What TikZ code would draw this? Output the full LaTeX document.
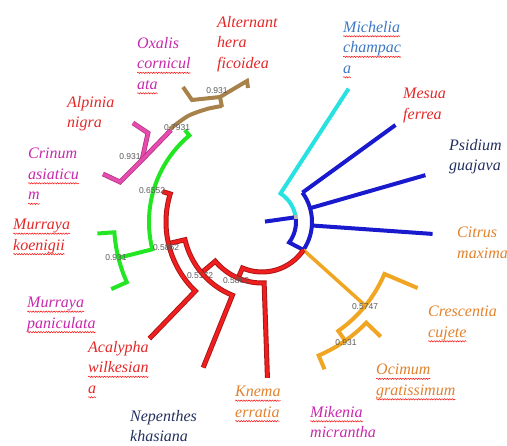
\documentclass[tikz,border=0pt]{standalone}
\usepackage{fontspec}
\setmainfont{Liberation Serif}
\newfontfamily\valfont{Liberation Sans}
\usetikzlibrary{decorations.pathmorphing}

\definecolor{cyanbr}{RGB}{40,225,225}
\definecolor{bluebr}{RGB}{25,25,205}
\definecolor{redbr}{RGB}{240,30,30}
\definecolor{orangebr}{RGB}{240,165,35}
\definecolor{greenbr}{RGB}{35,230,35}
\definecolor{pinkbr}{RGB}{232,75,175}
\definecolor{brownbr}{RGB}{168,130,75}
\definecolor{txtred}{RGB}{228,40,40}
\definecolor{txtpink}{RGB}{200,40,170}
\definecolor{txtnavy}{RGB}{35,48,95}
\definecolor{txtorange}{RGB}{225,130,45}
\definecolor{txtblue}{RGB}{60,120,195}

% wavy spell-check underline
\newlength\spellwd
\newcommand\spell[1]{\setbox0\hbox{#1}\setlength\spellwd{\wd0}%
  \rlap{\tikz[overlay, baseline=0pt]\draw[red, line width=0.45pt, decorate,
    decoration={snake, amplitude=0.7pt, segment length=2.6pt}] (0pt,-4pt) -- (\spellwd,-4pt);}#1}

\tikzset{
  branch/.style={line width=4pt},
  redbranch/.style={draw=redbr!70!black, line width=0.9pt, double=redbr, double distance=3.2pt},
  pinkbranch/.style={draw=pinkbr!75!black, line width=0.8pt, double=pinkbr, double distance=3.2pt},
  taxon/.style={anchor=north west, inner sep=0pt, align=left, font=\fontsize{16}{20.5}\selectfont\itshape},
  val/.style={font=\valfont\fontsize{8.5}{8.5}\selectfont, text=gray!70!black, inner sep=0.5pt}
}

\begin{document}
\begin{tikzpicture}[x=1pt, y=-1pt]
    \useasboundingbox (0,0) rectangle (507,446);

    % Circle tree round the root
    \begin{scope}[shift={(262,222)}, y=1pt]
        % Michelia
        \draw[branch, cyanbr] (57:159) -- (57:34) arc[start angle=57, end angle=8, radius=34];
        % Mesua, Psidium, Citrus
        \draw[branch, bluebr] (8:3) -- (8:34);
        \draw[branch, bluebr] (8:34) arc[start angle=8, end angle=-37, radius=34] -- (-34:50);
        \draw[branch, bluebr] (36:50) arc[start angle=36, end angle=-34, radius=50];
        \foreach \a/\r in {36/165, 16/170, -4/171}
            \draw[branch, bluebr] (\a:50) -- (\a:\r);
        \fill[gray!55] (8:34) +(-2,-2) rectangle +(2,2);

        % Crescentia, Ocimum, Mikenia
        \draw[branch, orangebr, line width=3.5pt] (-34:50) -- (-39:133);
        \draw[branch, orangebr] (-23:169) -- (-23:133) arc[start angle=-23, end angle=-55, radius=133] -- (-55:145);
        \draw[branch, orangebr] (-44:165) -- (-44:145) arc[start angle=-44, end angle=-67, radius=145] -- (-67:160);

        % Knema, Nepenthes, Acalypha
        \draw[redbranch] (-34:50) arc[start angle=-34, end angle=-113, radius=50] -- (-113:61);
        \draw[redbranch] (-88:156) -- (-88:61) arc[start angle=-88, end angle=-140, radius=61] -- (-140:79);
        \draw[redbranch] (-112:157) -- (-112:79) arc[start angle=-112, end angle=-167, radius=79] -- (-167:96);
        \draw[redbranch] (163:104) -- (163:96) arc[start angle=163, end angle=226, radius=96] -- (226:162);

        % Murraya
        \draw[branch, greenbr] (130:120) -- (130:113) arc[start angle=130, end angle=194, radius=113] -- (194:148);
        \draw[branch, greenbr] (184:165) -- (184:148) arc[start angle=184, end angle=204, radius=148] -- (204:165);
    \end{scope}

    % Alpinia, Crinum
    \draw[pinkbranch] (133,123) -- (148,133) -- (142,160);
    \draw[pinkbranch] (103,174) -- (120,182) -- (142,160) -- (171,130);

    % Oxalis, Alternanthera
    \draw[branch, brownbr] (183,87) -- (192,100) -- (220,97) -- (247,81) -- (248,88);
    \draw[branch, brownbr] (220,97) -- (222,107);
    \draw[branch, brownbr] plot[smooth] coordinates {(222,106) (207,109) (188,116) (170,129)};

    % values at the forks
    \node[val] (v1) at (217,91) {0.931};
    \node[val] (v2) at (177,128) {0.7931};
    \node[val] (v3) at (130,157) {0.931};
    \node[val] (v4) at (152,191) {0.6552};
    \node[val] (v5) at (166,248) {0.5862};
    \node[val] (v6) at (116,258) {0.931};
    \node[val] (v7) at (200,276) {0.5172};
    \node[val] (v8) at (236,281) {0.5862};
    \node[val] (v9) at (365,307) {0.5747};
    \node[val] (v10) at (346,343) {0.931};

    % species names
    \node[taxon, text=txtred] (alter) at (217,16) {Alternant\\hera\\ficoidea};
    \node[taxon, text=txtpink] (oxalis) at (137,37) {Oxalis\\\spell{cornicul}\\\spell{ata}};
    \node[taxon, text=txtred] (alpinia) at (67,96) {Alpinia\\nigra};
    \node[taxon, text=txtpink] (crinum) at (28,148) {Crinum\\\spell{asiaticu}\\\spell{m}};
    \node[taxon, text=txtred] (mkoen) at (13,219) {\spell{Murraya}\\\spell{koenigii}};
    \node[taxon, text=txtpink] (mpani) at (27,297) {\spell{Murraya}\\\spell{paniculata}};
    \node[taxon, text=txtred] (acaly) at (88,341) {Acalypha\\\spell{wilkesian}\\\spell{a}};
    \node[taxon, text=txtnavy] (nepen) at (130,410) {Nepenthes\\khasiana};
    \node[taxon, text=txtorange] (knema) at (235,386) {\spell{Knema}\\\spell{erratia}};
    \node[taxon, text=txtpink] (miken) at (310,406) {\spell{Mikenia}\\micrantha};
    \node[taxon, text=txtorange] (ocim) at (376,364) {\spell{Ocimum}\\\spell{gratissimum}};
    \node[taxon, text=txtorange] (cresc) at (428,306) {Crescentia\\\spell{cujete}};
    \node[taxon, text=txtorange] (citrus) at (457,227) {Citrus\\maxima};
    \node[taxon, text=txtnavy] (psid) at (449,139) {Psidium\\guajava};
    \node[taxon, text=txtred] (mesua) at (403,88) {Mesua\\ferrea};
    \node[taxon, text=txtblue] (miche) at (343,21) {\spell{Michelia}\\\spell{champac}\\\spell{a}};

\end{tikzpicture}
\end{document}
